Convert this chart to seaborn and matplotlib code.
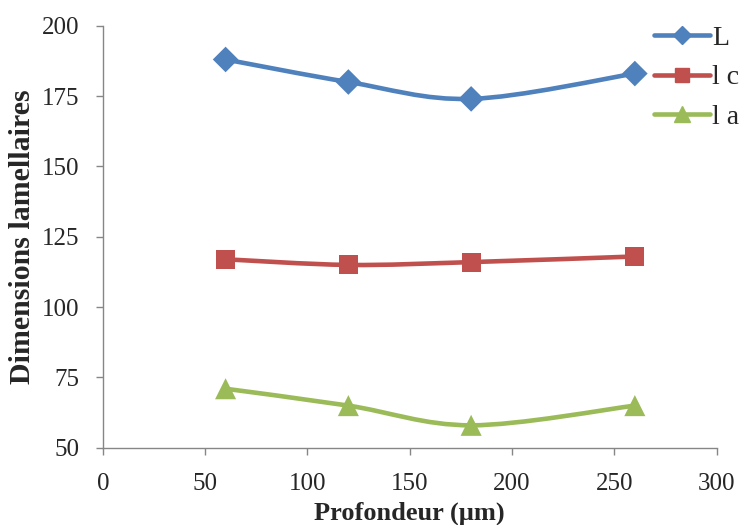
import matplotlib

matplotlib.use("Agg")

import matplotlib.pyplot as plt
import numpy as np
import pandas as pd
import seaborn as sns
from matplotlib.lines import Line2D
from matplotlib.patches import PathPatch
from matplotlib.path import Path

depth = [60, 120, 180, 260]
series_names = ["L", "l c", "l a"]
L_vals = [188, 180, 174, 183]
lc_vals = [117, 115, 116, 118]
la_vals = [71, 65, 58, 65]

colors = ["#4F81BD", "#C0504D", "#9BBB59"]
markers = ["D", "s", "^"]
msizes = [170, 190, 230]

df = pd.DataFrame({
    "depth": depth * 3,
    "value": L_vals + lc_vals + la_vals,
    "serie": [s for s in series_names for _ in depth],
})


def smooth_path(xs, ys):
    # Excel-style smoothed line: Catmull-Rom as cubic Bezier
    pts = np.column_stack([xs, ys]).astype(float)
    verts = [pts[0]]
    codes = [Path.MOVETO]
    n = len(pts)
    for i in range(n - 1):
        p0 = pts[max(i - 1, 0)]
        p1 = pts[i]
        p2 = pts[i + 1]
        p3 = pts[min(i + 2, n - 1)]
        verts += [p1 + (p2 - p0) / 6, p2 - (p3 - p1) / 6, p2]
        codes += [Path.CURVE4] * 3
    return Path(verts, codes)


sns.set_style("white")
plt.rcParams['font.family'] = ['Liberation Serif', 'DejaVu Serif']

fig = plt.figure(figsize=(7.45, 5.25), dpi=100)
ax = fig.add_axes([0.138, 0.147, 0.824, 0.804])

for name, c in zip(series_names, colors):
    sub = df[df["serie"] == name]
    ax.add_patch(PathPatch(smooth_path(sub["depth"], sub["value"]),
                           facecolor="none", edgecolor=c, lw=3.3, zorder=2))

sns.scatterplot(data=df, x="depth", y="value", hue="serie", style="serie", size="serie",
                palette=colors, markers=dict(zip(series_names, markers)),
                sizes=dict(zip(series_names, msizes)),
                linewidth=0, legend=False, ax=ax, zorder=3)

ax.set_xlim(0, 300)
ax.set_ylim(50, 200)
ax.set_xticks(range(0, 301, 50))
ax.set_yticks(range(50, 201, 25))
ax.tick_params(axis="both", labelsize=18, direction="out", length=5,
               color="#868686", width=1, bottom=True, left=True)
ax.tick_params(axis="y", pad=12)
ax.tick_params(axis="x", pad=13)
for side in ["top", "right"]:
    ax.spines[side].set_visible(False)
for side in ["left", "bottom"]:
    ax.spines[side].set_color("#868686")
    ax.spines[side].set_linewidth(1)

ax.set_xlabel("Profondeur (µm)", fontsize=19, fontweight="bold", labelpad=5)
ax.set_ylabel("Dimensions lamellaires", fontsize=21.5, fontweight="bold", labelpad=4)

handles = [Line2D([0], [0], color=c, lw=3.3, marker=m, markersize=np.sqrt(s) * 0.72)
           for c, m, s in zip(colors, markers, msizes)]
fig.legend(handles, series_names, loc="upper left", bbox_to_anchor=(0.863, 0.973),
           frameon=False, fontsize=20, handlelength=2.0, labelspacing=0.51,
           handletextpad=0.1, borderaxespad=0)

fig.savefig("out.png", dpi=100)
plt.close(fig)
